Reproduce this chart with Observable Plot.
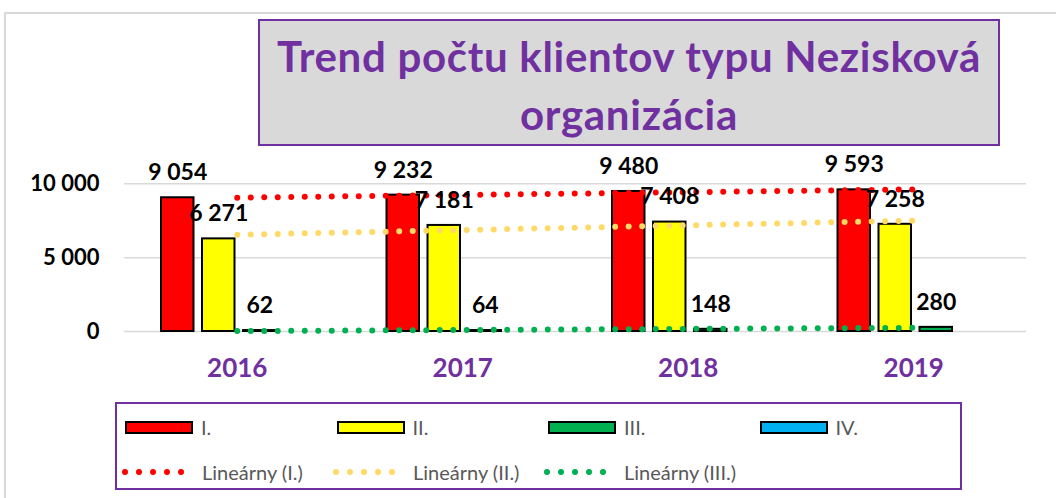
<!DOCTYPE html>
<html><head><meta charset="utf-8">
<script src="https://cdn.jsdelivr.net/npm/d3@7"></script>
<script src="https://cdn.jsdelivr.net/npm/@observablehq/plot@0.6"></script>
<style>
body{margin:0;background:#fff;font-family:Lato, sans-serif;}
#wrap{position:relative;width:1056px;height:498px;overflow:hidden;background:#fff;}
#frame{position:absolute;left:4px;top:12px;width:1100px;height:520px;border:2px solid #d9d9d9;box-sizing:border-box;}
#title{position:absolute;left:258px;top:19px;width:742px;height:127px;box-sizing:border-box;background:#d9d9d9;border:2px solid #7030a0;color:#7030a0;font-weight:700;font-size:42px;letter-spacing:0.7px;line-height:58px;text-align:center;padding-top:6px;}
#chart{position:absolute;left:0;top:0;}
#legend{position:absolute;left:115px;top:402px;width:847px;height:88px;box-sizing:border-box;border:2px solid #7030a0;background:#fff;}
.item{position:absolute;display:flex;align-items:center;font-size:20px;color:#595959;height:26px;}
.sw{width:68px;height:13px;box-sizing:border-box;border:2px solid #000;margin-right:8px;}
</style>
</head><body>
<div id="wrap">
  <div id="frame"></div>
  <div id="chart"></div>
  <div id="title">Trend počtu klientov typu Nezisková<br>organizácia</div>
  <div id="legend"></div>
</div>
<script>
const years = ["2016", "2017", "2018", "2019"];
const seriesNames = ["I.", "II.", "III.", "IV."];
const valuesI = [9054, 9232, 9480, 9593];
const valuesII = [6271, 7181, 7408, 7258];
const valuesIII = [62, 64, 148, 280];
const valuesIV = [0, 0, 0, 0];
const yTicks = [0, 5000, 10000];
const trendNames = ["Lineárny (I.)", "Lineárny (II.)", "Lineárny (III.)"];

const barColors = ["#ff0000", "#ffff00", "#00b050", "#00b0f0"];
const trendColors = ["#ff0000", "#ffd966", "#00b050"];

const seriesValues = [valuesI, valuesII, valuesIII, valuesIV];
const rows = seriesNames.flatMap((s, si) => years.map((y, yi) => ({year: y, series: s, value: seriesValues[si][yi]})));
const bySeries = s => rows.filter(d => d.series === s);

const locale = d3.formatLocale({decimal: ",", thousands: "\u00a0", grouping: [3], currency: ["", ""]});
const fmt = locale.format(",d");

const W = 1056, H = 390, mL = 124, mR = 30, mT = 183.3, mB = 59;
const bw = (W - mL - mR) / years.length;
const barStart = 37, barW = 32.5, barStep = 41;

const marks = [];
marks.push(Plot.ruleY(yTicks, {stroke: "#d9d9d9", strokeWidth: 1.5}));
seriesNames.forEach((s, si) => {
  marks.push(Plot.barY(bySeries(s), {
    x: "year", y: "value", fill: barColors[si],
    stroke: si === 3 ? "#8c8c8c" : "#000", strokeWidth: 2,
    insetLeft: barStart + barStep * si,
    insetRight: bw - (barStart + barStep * si + barW)
  }));
});
trendNames.forEach((t, si) => {
  marks.push(Plot.linearRegressionY(bySeries(seriesNames[si]), {
    x: "year", y: "value", stroke: trendColors[si], strokeWidth: 6,
    strokeDasharray: "0 13.5", strokeLinecap: "round", ci: 0
  }));
});
[0, 1, 2].forEach(si => {
  marks.push(Plot.text(bySeries(seriesNames[si]), {
    x: "year", y: "value", text: d => fmt(d.value),
    dx: barStart + barStep * si + barW / 2 - bw / 2, dy: -25,
    fontSize: 23, fontWeight: "bold", fill: "#000", fontFamily: "Lato"
  }));
});
marks.push(Plot.text(yTicks, {y: d => d, text: d => fmt(d), frameAnchor: "left", lineAnchor: "middle", textAnchor: "end", dx: -25, fontSize: 22, fontWeight: "bold", fill: "#000", fontFamily: "Lato"}));
marks.push(Plot.text(years, {x: d => d, text: d => d, frameAnchor: "bottom", lineAnchor: "middle", dy: 37, fontSize: 26, fontWeight: "bold", fill: "#7030a0", fontFamily: "Lato"}));

const chart = Plot.plot({
  width: W, height: H,
  marginLeft: mL, marginRight: mR, marginTop: mT, marginBottom: mB,
  style: {fontFamily: "Lato", background: "transparent", overflow: "visible"},
  x: {type: "band", domain: years, padding: 0, round: false, axis: null},
  y: {domain: [0, 10000], axis: null},
  marks
});
document.getElementById("chart").appendChild(chart);

// legend
const leg = document.getElementById("legend");
seriesNames.forEach((s, si) => {
  const it = document.createElement("div");
  it.className = "item";
  it.style.left = (8 + 211.5 * si) + "px";
  it.style.top = (23 - 13) + "px";
  it.innerHTML = `<div class="sw" style="background:${barColors[si]}"></div><span>${s}</span>`;
  leg.appendChild(it);
});
trendNames.forEach((t, si) => {
  const it = document.createElement("div");
  it.className = "item";
  it.style.left = (5 + 211 * si) + "px";
  it.style.top = (68 - 13) + "px";
  let dots = "";
  for (let k = 0; k < 5; k++) dots += `<circle cx="${3 + k * 14}" cy="6" r="3" fill="${trendColors[si]}"/>`;
  it.innerHTML = `<svg width="66" height="12" style="margin-right:14px">${dots}</svg><span>${t}</span>`;
  leg.appendChild(it);
});
</script>
</body></html>
